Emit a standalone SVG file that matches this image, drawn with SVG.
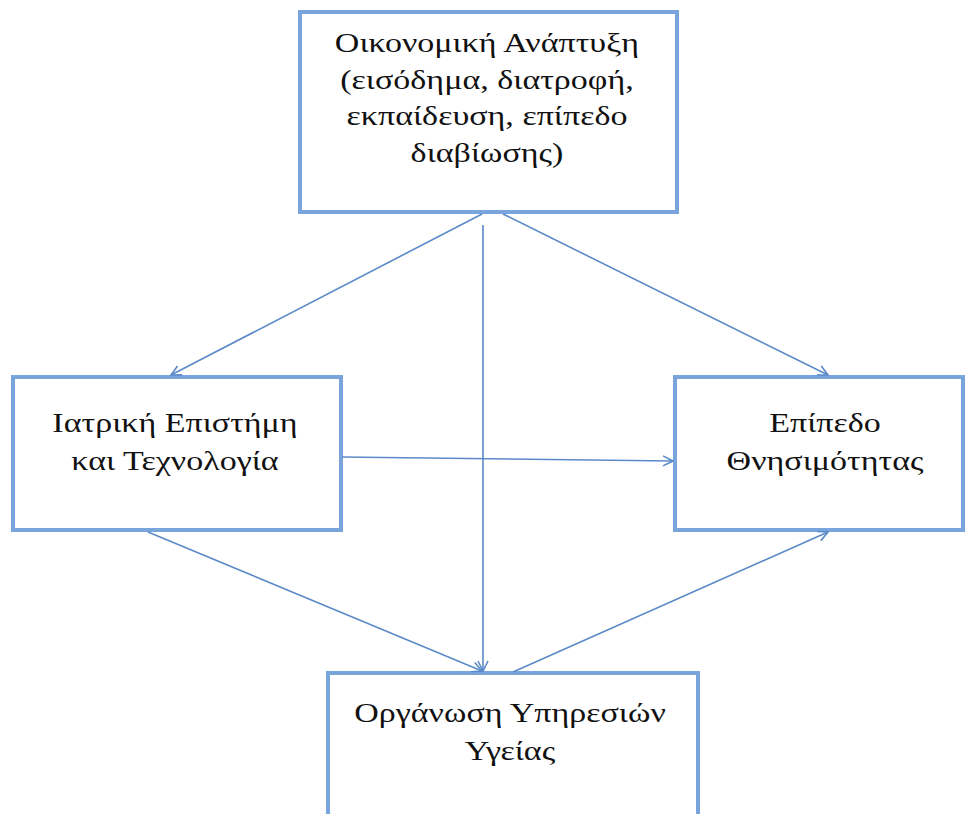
<svg xmlns="http://www.w3.org/2000/svg" width="966" height="814" viewBox="0 0 966 814">
<style>
.box{fill:#ffffff;stroke:#7aa5dc;stroke-width:4}
.lbl{font-family:"Liberation Serif","Times New Roman","DejaVu Serif",serif;font-size:27px;fill:#111111;text-anchor:middle}
.con{stroke:#5b8ac8;stroke-width:1.6;fill:none;marker-end:url(#ah)}
</style>
<defs>
<marker id="ah" viewBox="0 0 12 12" refX="11" refY="6" markerWidth="12" markerHeight="12" markerUnits="userSpaceOnUse" orient="auto">
<path d="M1,1 L11,6 L1,11" fill="none" stroke="#5b8ac8" stroke-width="1.6"/>
</marker>
</defs>
<rect width="966" height="814" fill="#ffffff"/>
<g id="n-econ">
<rect class="box" x="300" y="12" width="377" height="200"/>
<g transform="translate(487,0) scale(1.26,1)">
<text class="lbl" x="0" y="52">Οικονομική Ανάπτυξη</text>
<text class="lbl" x="0" y="89">(εισόδημα, διατροφή,</text>
<text class="lbl" x="0" y="125">εκπαίδευση, επίπεδο</text>
<text class="lbl" x="0" y="162">διαβίωσης)</text>
</g>
</g>
<g id="n-med">
<rect class="box" x="13" y="377" width="328" height="153"/>
<g transform="translate(175,0) scale(1.26,1)">
<text class="lbl" x="0" y="432">Ιατρική Επιστήμη</text>
<text class="lbl" x="0" y="470">και Τεχνολογία</text>
</g>
</g>
<g id="n-mort">
<rect class="box" x="675" y="377" width="288" height="153"/>
<g transform="translate(825,0) scale(1.26,1)">
<text class="lbl" x="0" y="432">Επίπεδο</text>
<text class="lbl" x="0" y="470">Θνησιμότητας</text>
</g>
</g>
<g id="n-org">
<rect class="box" x="328" y="673" width="370" height="160"/>
<g transform="translate(510,0) scale(1.26,1)">
<text class="lbl" x="0" y="722">Οργάνωση Υπηρεσιών</text>
<text class="lbl" x="0" y="760">Υγείας</text>
</g>
</g>
<g id="connectors">
<line class="con" x1="482" y1="214" x2="171" y2="375"/>
<line class="con" x1="503" y1="214" x2="828" y2="375"/>
<line class="con" x1="483" y1="225" x2="483" y2="671"/>
<line class="con" x1="342" y1="457" x2="673" y2="461"/>
<line class="con" x1="148" y1="532" x2="482" y2="671"/>
<line class="con" x1="513" y1="672" x2="828" y2="532"/>
</g>
</svg>
